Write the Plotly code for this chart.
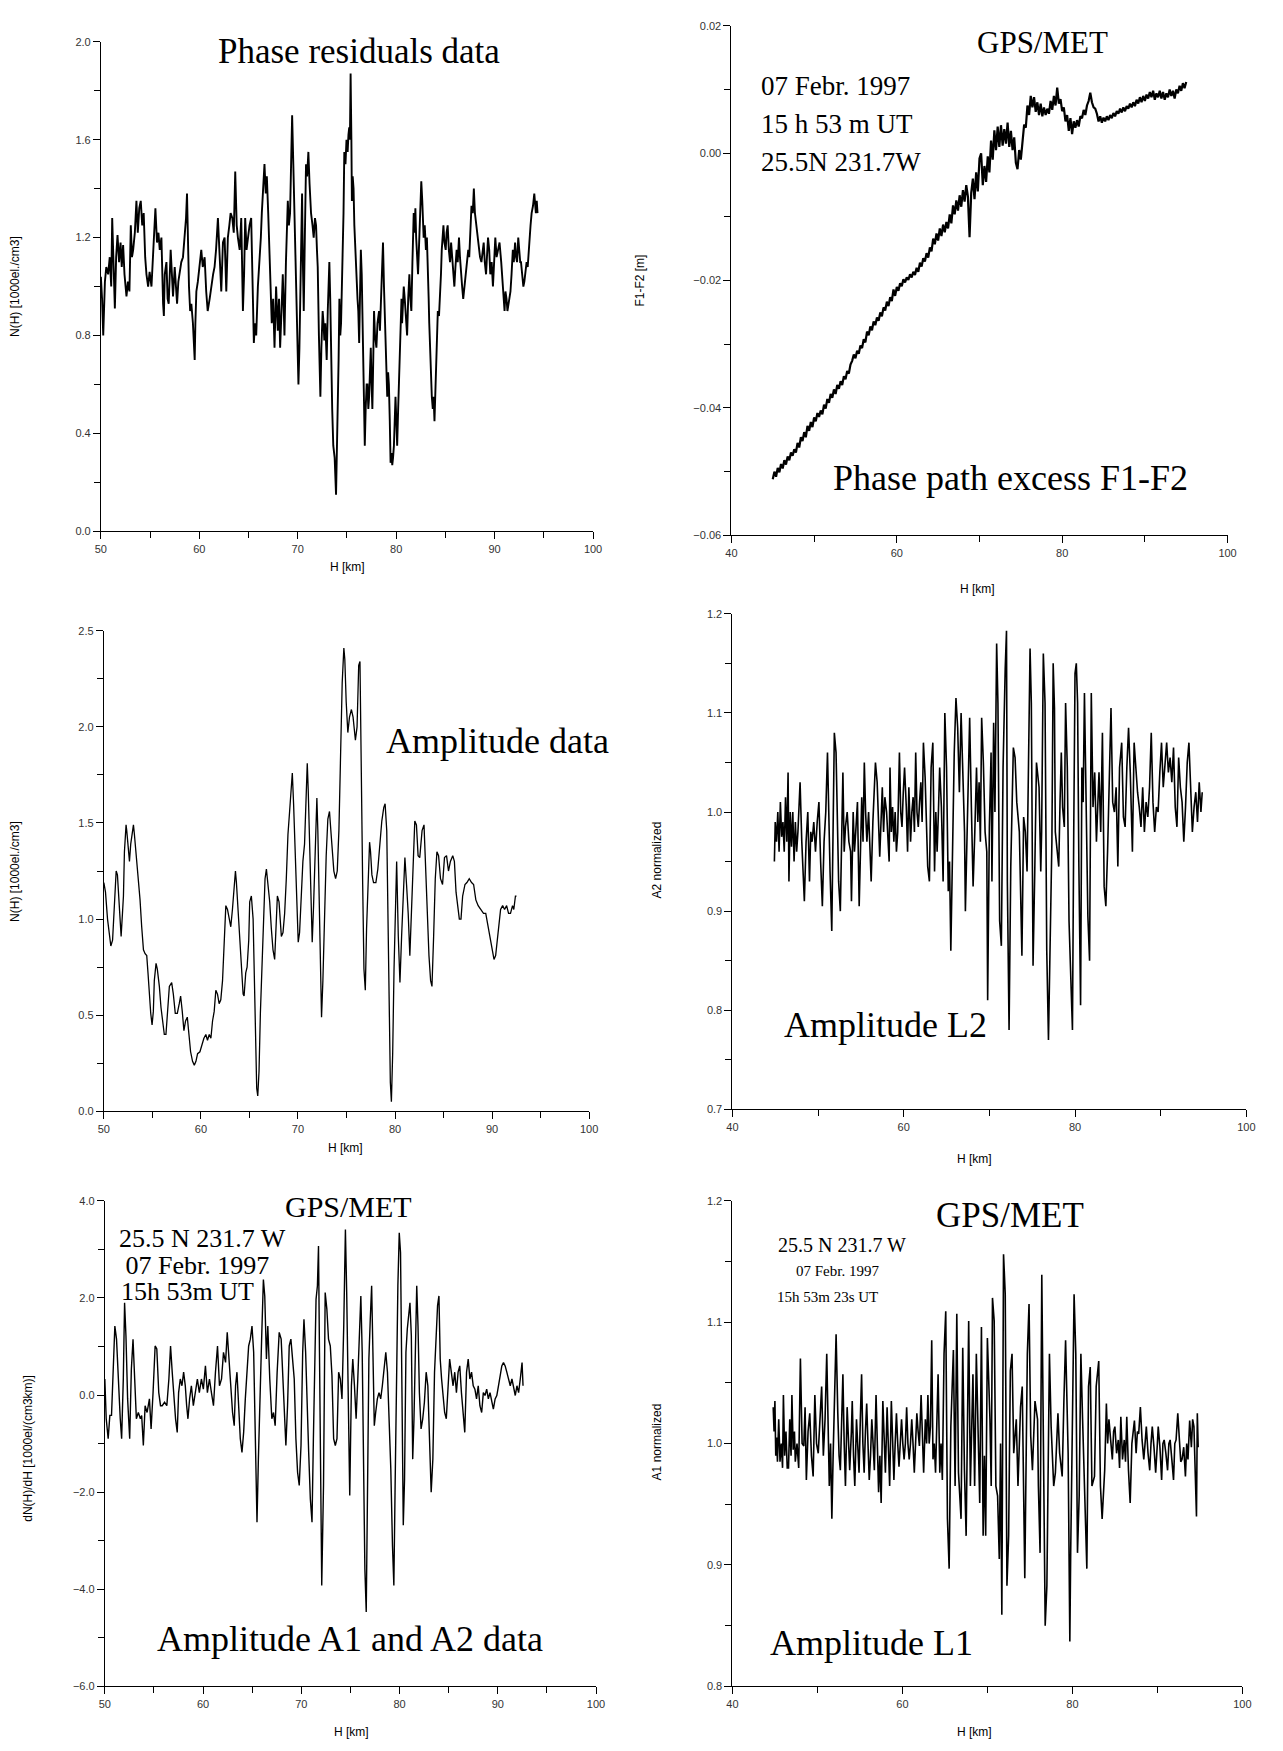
import plotly.graph_objects as go

W, H = 1283, 1751

# ---------------- data ----------------
# Panel 1: Phase residuals data  (H [km], N(H) [1000el./cm3])
phase_pts = [
    (50.0, 1.04), (50.12, 0.95), (50.24, 0.80), (50.33, 1.00), (50.41, 1.02), (50.55, 1.08), (50.74, 1.05),
    (50.9, 1.12), (51.05, 1.0), (51.15, 1.28), (51.28, 1.1), (51.42, 0.91), (51.55, 1.12), (51.69, 1.21),
    (51.85, 1.1), (52.0, 1.18), (52.12, 1.08), (52.26, 1.17), (52.4, 1.05), (52.6, 0.96), (52.75, 1.02),
    (52.9, 0.98), (53.04, 1.25), (53.16, 1.12), (53.28, 1.15), (53.45, 1.22), (53.61, 1.35), (53.75, 1.22),
    (53.9, 1.32), (54.05, 1.35), (54.2, 1.25), (54.35, 1.3), (54.5, 1.12), (54.63, 1.05), (54.8, 1.0),
    (54.95, 1.06), (55.14, 1.0), (55.3, 1.15), (55.45, 1.25), (55.54, 1.32), (55.7, 1.18), (55.85, 1.22),
    (55.98, 1.15), (56.15, 1.2), (56.32, 0.93), (56.4, 0.88), (56.49, 1.05), (56.66, 1.1), (56.78, 0.95),
    (56.89, 0.93), (57.09, 1.15), (57.2, 1.05), (57.33, 0.96), (57.5, 1.08), (57.62, 1.0), (57.74, 0.93),
    (57.87, 1.02), (58.0, 1.05), (58.17, 1.1), (58.34, 1.12), (58.5, 1.2), (58.65, 1.28), (58.75, 1.38),
    (58.85, 1.12), (58.95, 1.0), (59.07, 0.9), (59.19, 0.93), (59.35, 0.85), (59.53, 0.70), (59.6, 0.85),
    (59.7, 0.98), (59.85, 1.02), (60.03, 1.1), (60.2, 1.15), (60.35, 1.08), (60.54, 1.12), (60.7, 0.98),
    (60.85, 0.9), (61.05, 0.95), (61.2, 1.0), (61.4, 1.05), (61.55, 1.08), (61.7, 1.15), (61.89, 1.28),
    (62.05, 1.1), (62.23, 0.98), (62.4, 1.18), (62.57, 1.2), (62.74, 0.98), (62.9, 1.2), (63.05, 1.25),
    (63.18, 1.3), (63.35, 1.28), (63.5, 1.22), (63.65, 1.47), (63.8, 1.25), (63.92, 1.2), (64.1, 1.15),
    (64.26, 1.28), (64.43, 0.9), (64.55, 1.05), (64.66, 1.28), (64.8, 1.15), (64.93, 1.2), (65.1, 1.25),
    (65.27, 1.28), (65.4, 1.0), (65.54, 0.77), (65.65, 0.85), (65.78, 0.8), (65.95, 1.0), (66.11, 1.1),
    (66.25, 1.2), (66.35, 1.3), (66.5, 1.42), (66.62, 1.5), (66.75, 1.38), (66.86, 1.45), (67.0, 1.3),
    (67.13, 1.1), (67.25, 1.0), (67.36, 0.85), (67.5, 0.95), (67.64, 0.75), (67.8, 1.0), (67.9, 0.9),
    (67.97, 0.82), (68.1, 0.95), (68.21, 0.75), (68.35, 0.9), (68.48, 1.05), (68.55, 0.95), (68.65, 0.8),
    (68.8, 1.1), (68.99, 1.35), (69.1, 1.25), (69.22, 1.3), (69.35, 1.55), (69.43, 1.7), (69.55, 1.5),
    (69.66, 1.3), (69.75, 1.2), (69.83, 1.1), (69.95, 0.8), (70.07, 0.6), (70.17, 0.75), (70.27, 0.95),
    (70.35, 1.2), (70.44, 1.38), (70.52, 1.1), (70.61, 0.9), (70.72, 1.2), (70.84, 1.5), (70.95, 1.45),
    (71.08, 1.55), (71.2, 1.42), (71.35, 1.3), (71.5, 1.25), (71.62, 1.2), (71.75, 1.28), (71.86, 1.25),
    (71.95, 1.15), (72.03, 1.08), (72.15, 0.8), (72.3, 0.55), (72.4, 0.75), (72.53, 0.9), (72.62, 0.85),
    (72.7, 0.78), (72.8, 0.85), (72.94, 0.7), (73.05, 0.9), (73.21, 1.1), (73.3, 0.95), (73.38, 0.7),
    (73.5, 0.5), (73.61, 0.35), (73.75, 0.3), (73.89, 0.15), (73.97, 0.3), (74.06, 0.5), (74.15, 0.7),
    (74.23, 0.95), (74.32, 0.8), (74.4, 0.85), (74.5, 1.0), (74.56, 1.15), (74.65, 1.3), (74.73, 1.55),
    (74.85, 1.5), (74.95, 1.6), (75.07, 1.55), (75.15, 1.62), (75.23, 1.65), (75.3, 1.6), (75.37, 1.87),
    (75.45, 1.6), (75.5, 1.35), (75.58, 1.45), (75.67, 1.4), (75.75, 1.25), (75.84, 1.15), (75.95, 1.05),
    (76.07, 0.95), (76.15, 0.9), (76.24, 0.77), (76.32, 0.95), (76.41, 1.15), (76.5, 1.05), (76.58, 0.9),
    (76.7, 0.6), (76.81, 0.35), (76.9, 0.5), (77.0, 0.6), (77.08, 0.6), (77.17, 0.5), (77.25, 0.55),
    (77.33, 0.7), (77.42, 0.75), (77.5, 0.6), (77.58, 0.5), (77.67, 0.7), (77.75, 0.9), (77.85, 0.8),
    (77.99, 0.75), (78.1, 0.85), (78.26, 0.9), (78.35, 0.82), (78.46, 0.95), (78.55, 1.05), (78.66, 1.18),
    (78.76, 1.0), (78.85, 0.85), (78.93, 0.7), (79.01, 0.6), (79.09, 0.55), (79.18, 0.65), (79.26, 0.6),
    (79.35, 0.45), (79.43, 0.28), (79.52, 0.32), (79.6, 0.27), (79.68, 0.3), (79.77, 0.35), (79.85, 0.45),
    (79.93, 0.55), (80.02, 0.45), (80.1, 0.35), (80.2, 0.5), (80.34, 0.7), (80.45, 0.85), (80.54, 0.95),
    (80.6, 0.85), (80.67, 0.9), (80.77, 1.0), (80.87, 0.95), (80.98, 0.85), (81.11, 0.8), (81.22, 0.95),
    (81.34, 1.05), (81.44, 0.95), (81.54, 0.9), (81.65, 1.1), (81.78, 1.3), (81.87, 1.22), (81.95, 1.32),
    (82.03, 1.2), (82.11, 1.1), (82.22, 1.05), (82.35, 1.2), (82.45, 1.3), (82.55, 1.43), (82.65, 1.35),
    (82.79, 1.2), (82.9, 1.25), (83.02, 1.15), (83.12, 1.2), (83.22, 1.1), (83.3, 0.95), (83.36, 0.85),
    (83.45, 0.72), (83.52, 0.65), (83.62, 0.55), (83.72, 0.5), (83.8, 0.55), (83.89, 0.45), (83.97, 0.55),
    (84.06, 0.7), (84.15, 0.85), (84.23, 0.9), (84.35, 0.88), (84.46, 0.95), (84.55, 1.05), (84.63, 1.15),
    (84.72, 1.2), (84.8, 1.25), (84.9, 1.18), (85.03, 1.15), (85.12, 1.22), (85.23, 1.25), (85.35, 1.15),
    (85.47, 1.1), (85.58, 1.18), (85.7, 1.12), (85.8, 1.05), (85.91, 1.0), (86.02, 1.08), (86.14, 1.15),
    (86.25, 1.1), (86.38, 1.2), (86.48, 1.12), (86.58, 1.05), (86.7, 1.0), (86.81, 0.95), (86.92, 1.0),
    (87.05, 1.05), (87.18, 1.1), (87.32, 1.15), (87.42, 1.12), (87.52, 1.2), (87.65, 1.33), (87.78, 1.3),
    (87.89, 1.4), (88.0, 1.3), (88.15, 1.25), (88.28, 1.2), (88.39, 1.18), (88.52, 1.12), (88.66, 1.1),
    (88.78, 1.15), (88.89, 1.18), (89.0, 1.1), (89.13, 1.05), (89.22, 1.12), (89.33, 1.2), (89.45, 1.15),
    (89.56, 1.05), (89.7, 1.1), (89.83, 1.0), (89.95, 1.1), (90.07, 1.2), (90.2, 1.12), (90.34, 1.15),
    (90.5, 1.18), (90.67, 1.1), (90.75, 1.05), (90.84, 1.0), (90.92, 0.95), (91.01, 0.9), (91.1, 0.98),
    (91.21, 0.95), (91.3, 0.9), (91.41, 0.93), (91.5, 0.95), (91.61, 0.98), (91.72, 1.05), (91.85, 1.15),
    (91.95, 1.1), (92.08, 1.18), (92.18, 1.12), (92.28, 1.1), (92.4, 1.2), (92.52, 1.15), (92.6, 1.1),
    (92.68, 1.1), (92.8, 1.05), (92.92, 1.0), (93.02, 1.02), (93.12, 1.05), (93.25, 1.1), (93.36, 1.08),
    (93.45, 1.15), (93.52, 1.18), (93.65, 1.25), (93.76, 1.3), (93.9, 1.33), (94.03, 1.38), (94.12, 1.3),
    (94.19, 1.3), (94.28, 1.35), (94.36, 1.3),
]

# Panel 2: Phase path excess F1-F2 (H [km], F1-F2 [m])
f1f2_pts = [
    (45.0, -0.0512), (45.2, -0.0500), (45.4, -0.0508), (45.6, -0.0494), (45.8, -0.0501), (46.0, -0.0488),
    (46.2, -0.0495), (46.4, -0.0482), (46.6, -0.0489), (46.8, -0.0476), (47.0, -0.0482), (47.2, -0.0470),
    (47.4, -0.0475), (47.6, -0.0465), (47.8, -0.0470), (48.0, -0.0455), (48.2, -0.0462), (48.4, -0.0446),
    (48.6, -0.0452), (48.8, -0.0438), (49.0, -0.0446), (49.2, -0.0428), (49.4, -0.0436), (49.6, -0.0422),
    (49.8, -0.0430), (50.0, -0.0415), (50.2, -0.0421), (50.4, -0.0408), (50.6, -0.0414), (50.8, -0.0404),
    (51.0, -0.0410), (51.2, -0.0395), (51.4, -0.0401), (51.6, -0.0386), (51.8, -0.0392), (52.0, -0.0378),
    (52.2, -0.0384), (52.4, -0.0371), (52.6, -0.0378), (52.8, -0.0364), (53.0, -0.0370), (53.2, -0.0358),
    (53.4, -0.0364), (53.6, -0.0350), (53.8, -0.0355), (54.0, -0.0342), (54.2, -0.0346), (54.4, -0.0332),
    (54.6, -0.0326), (54.8, -0.0316), (55.0, -0.0322), (55.2, -0.0310), (55.4, -0.0315), (55.6, -0.0302),
    (55.8, -0.0306), (56.0, -0.0292), (56.2, -0.0297), (56.4, -0.0280), (56.6, -0.0286), (56.8, -0.0272),
    (57.0, -0.0278), (57.2, -0.0264), (57.4, -0.0270), (57.6, -0.0258), (57.8, -0.0263), (58.0, -0.0250),
    (58.2, -0.0256), (58.4, -0.0242), (58.6, -0.0247), (58.8, -0.0233), (59.0, -0.0240), (59.2, -0.0226),
    (59.4, -0.0232), (59.6, -0.0214), (59.8, -0.0224), (60.0, -0.0210), (60.2, -0.0216), (60.4, -0.0204),
    (60.6, -0.0209), (60.8, -0.0198), (61.0, -0.0203), (61.2, -0.0195), (61.4, -0.0199), (61.6, -0.0190),
    (61.8, -0.0195), (62.0, -0.0186), (62.2, -0.0191), (62.4, -0.0180), (62.6, -0.0186), (62.8, -0.0172),
    (63.0, -0.0178), (63.2, -0.0165), (63.4, -0.0170), (63.6, -0.0157), (63.8, -0.0164), (64.0, -0.0148),
    (64.2, -0.0154), (64.4, -0.0134), (64.6, -0.0143), (64.8, -0.0126), (65.0, -0.0137), (65.2, -0.0118),
    (65.4, -0.0130), (65.6, -0.0112), (65.8, -0.0124), (66.0, -0.0108), (66.2, -0.0118), (66.4, -0.0096),
    (66.6, -0.0110), (66.8, -0.0082), (67.0, -0.0096), (67.2, -0.0074), (67.4, -0.0090), (67.6, -0.0066),
    (67.8, -0.0084), (68.0, -0.0058), (68.2, -0.0076), (68.4, -0.0050), (68.6, -0.0068), (68.8, -0.0132),
    (69.0, -0.0062), (69.2, -0.0040), (69.4, -0.0072), (69.6, -0.0030), (69.8, -0.0060), (70.0, -0.0008),
    (70.2, 0.0000), (70.4, -0.0050), (70.6, -0.0020), (70.8, -0.0045), (71.0, -0.0005), (71.2, -0.0030),
    (71.4, 0.0020), (71.6, -0.0010), (71.8, 0.0036), (72.0, 0.0005), (72.2, 0.0042), (72.4, 0.0010),
    (72.6, 0.0044), (72.8, 0.0012), (73.0, 0.0038), (73.2, 0.0015), (73.4, 0.0048), (73.6, 0.0010),
    (73.8, 0.0035), (74.0, 0.0005), (74.2, 0.0025), (74.4, -0.0015), (74.6, -0.0025), (74.8, 0.0005),
    (75.0, -0.0010), (75.2, 0.0020), (75.4, 0.0045), (75.6, 0.0040), (75.8, 0.0075), (76.0, 0.0060),
    (76.2, 0.0090), (76.4, 0.0072), (76.6, 0.0088), (76.8, 0.0065), (77.0, 0.0080), (77.2, 0.0060),
    (77.4, 0.0078), (77.6, 0.0058), (77.8, 0.0072), (78.0, 0.0060), (78.2, 0.0070), (78.4, 0.0062),
    (78.6, 0.0082), (78.8, 0.0068), (79.0, 0.0090), (79.2, 0.0075), (79.4, 0.0103), (79.6, 0.0078),
    (79.8, 0.0085), (80.0, 0.0066), (80.2, 0.0072), (80.4, 0.0050), (80.6, 0.0060), (80.8, 0.0035),
    (81.0, 0.0055), (81.2, 0.0030), (81.4, 0.0050), (81.6, 0.0040), (81.8, 0.0052), (82.0, 0.0042),
    (82.2, 0.0058), (82.4, 0.0055), (82.6, 0.0068), (82.8, 0.0060), (83.0, 0.0075), (83.2, 0.0082),
    (83.4, 0.0095), (83.6, 0.0080), (83.8, 0.0072), (84.0, 0.0070), (84.2, 0.0062), (84.4, 0.0050),
    (84.6, 0.0058), (84.8, 0.0048), (85.0, 0.0056), (85.2, 0.0050), (85.4, 0.0058), (85.6, 0.0052),
    (85.8, 0.0060), (86.0, 0.0055), (86.2, 0.0063), (86.4, 0.0058), (86.6, 0.0066), (86.8, 0.0062),
    (87.0, 0.0070), (87.2, 0.0064), (87.4, 0.0072), (87.6, 0.0066), (87.8, 0.0074), (88.0, 0.0070),
    (88.2, 0.0078), (88.4, 0.0072), (88.6, 0.0080), (88.8, 0.0074), (89.0, 0.0084), (89.2, 0.0078),
    (89.4, 0.0088), (89.6, 0.0080), (89.8, 0.0090), (90.0, 0.0082), (90.2, 0.0092), (90.4, 0.0086),
    (90.6, 0.0096), (90.8, 0.0088), (91.0, 0.0098), (91.2, 0.0084), (91.4, 0.0094), (91.6, 0.0088),
    (91.8, 0.0098), (92.0, 0.0086), (92.2, 0.0096), (92.4, 0.0084), (92.6, 0.0094), (92.8, 0.0088),
    (93.0, 0.0100), (93.2, 0.0090), (93.4, 0.0098), (93.6, 0.0086), (93.8, 0.0100), (94.0, 0.0094),
    (94.2, 0.0106), (94.4, 0.0098), (94.6, 0.0110), (94.8, 0.0102), (95.0, 0.0112),
]

# Panel 3: Amplitude data (H [km], N(H) [1000el./cm3])
ampl_pts = [
    (50.0, 1.19), (50.17, 1.14), (50.38, 1.0), (50.55, 0.93), (50.72, 0.86), (50.9, 0.89), (51.0, 0.98),
    (51.1, 1.1), (51.27, 1.25), (51.4, 1.23), (51.54, 1.12), (51.68, 1.03), (51.78, 0.91), (51.92, 1.03),
    (52.02, 1.12), (52.12, 1.35), (52.29, 1.49), (52.36, 1.46), (52.47, 1.39), (52.64, 1.3), (52.77, 1.39),
    (52.91, 1.44), (53.05, 1.49), (53.15, 1.44), (53.32, 1.35), (53.49, 1.26), (53.73, 1.1), (53.9, 0.96),
    (54.08, 0.84), (54.25, 0.82), (54.42, 0.81), (54.55, 0.72), (54.7, 0.6), (54.83, 0.51), (54.97, 0.45),
    (55.1, 0.52), (55.2, 0.68), (55.38, 0.77), (55.51, 0.74), (55.72, 0.65), (55.89, 0.54), (56.06, 0.47),
    (56.23, 0.4), (56.4, 0.4), (56.58, 0.54), (56.75, 0.65), (56.99, 0.67), (57.16, 0.61), (57.36, 0.51),
    (57.57, 0.51), (57.77, 0.56), (57.91, 0.6), (58.08, 0.52), (58.25, 0.42), (58.42, 0.47), (58.6, 0.49),
    (58.77, 0.4), (58.94, 0.31), (59.14, 0.26), (59.32, 0.24), (59.49, 0.26), (59.66, 0.3), (59.9, 0.31),
    (60.07, 0.34), (60.31, 0.38), (60.51, 0.4), (60.68, 0.37), (60.86, 0.4), (61.03, 0.38), (61.2, 0.47),
    (61.37, 0.52), (61.54, 0.63), (61.71, 0.61), (61.88, 0.56), (62.05, 0.58), (62.23, 0.68), (62.4, 0.93),
    (62.57, 1.07), (62.74, 1.05), (62.91, 1.0), (63.08, 0.96), (63.25, 1.05), (63.42, 1.18), (63.56, 1.25),
    (63.66, 1.19), (63.84, 1.05), (64.0, 0.89), (64.18, 0.74), (64.35, 0.61), (64.45, 0.6), (64.62, 0.72),
    (64.76, 0.75), (64.93, 0.89), (65.03, 1.09), (65.2, 1.12), (65.38, 1.0), (65.48, 0.72), (65.62, 0.37),
    (65.75, 0.12), (65.86, 0.08), (65.99, 0.21), (66.13, 0.51), (66.3, 0.79), (66.47, 1.03), (66.61, 1.21),
    (66.75, 1.26), (66.92, 1.19), (67.09, 1.09), (67.26, 0.95), (67.43, 0.84), (67.6, 0.79), (67.71, 0.91),
    (67.88, 1.12), (68.05, 1.09), (68.18, 1.0), (68.29, 0.91), (68.46, 0.93), (68.63, 1.03), (68.8, 1.21),
    (68.97, 1.44), (69.14, 1.56), (69.32, 1.72), (69.42, 1.76), (69.55, 1.6), (69.73, 1.32), (69.9, 1.03),
    (70.03, 0.88), (70.17, 0.93), (70.34, 1.14), (70.51, 1.3), (70.68, 1.39), (70.86, 1.67), (70.96, 1.81),
    (71.06, 1.67), (71.2, 1.39), (71.37, 1.05), (71.47, 0.88), (71.61, 1.07), (71.82, 1.51), (71.95, 1.63),
    (72.05, 1.46), (72.19, 1.09), (72.33, 0.61), (72.43, 0.49), (72.57, 0.68), (72.74, 1.07), (72.91, 1.33),
    (73.08, 1.52), (73.25, 1.56), (73.42, 1.44), (73.54, 1.35), (73.7, 1.25), (73.88, 1.21), (74.05, 1.25),
    (74.22, 1.46), (74.39, 1.84), (74.56, 2.23), (74.73, 2.41), (74.83, 2.35), (74.97, 2.13), (75.14, 1.97),
    (75.31, 2.05), (75.51, 2.09), (75.68, 2.05), (75.92, 1.93), (76.09, 2.0), (76.26, 2.32), (76.39, 2.34),
    (76.53, 1.88), (76.67, 1.18), (76.8, 0.74), (76.94, 0.63), (77.07, 0.95), (77.21, 1.14), (77.38, 1.4),
    (77.48, 1.35), (77.62, 1.23), (77.79, 1.19), (78.03, 1.19), (78.23, 1.26), (78.44, 1.4), (78.64, 1.51),
    (78.84, 1.58), (78.98, 1.6), (79.15, 1.46), (79.25, 1.07), (79.39, 0.51), (79.52, 0.15), (79.63, 0.05),
    (79.76, 0.3), (79.9, 0.74), (80.03, 1.09), (80.17, 1.3), (80.34, 0.91), (80.51, 0.67), (80.68, 0.91),
    (80.85, 1.14), (81.02, 1.32), (81.19, 1.18), (81.36, 1.03), (81.53, 0.81), (81.7, 1.03), (81.87, 1.26),
    (82.04, 1.51), (82.21, 1.49), (82.38, 1.33), (82.55, 1.32), (82.79, 1.46), (82.99, 1.49), (83.13, 1.3),
    (83.33, 1.02), (83.5, 0.81), (83.67, 0.68), (83.81, 0.65), (83.98, 0.91), (84.15, 1.21), (84.32, 1.35),
    (84.49, 1.33), (84.69, 1.21), (84.9, 1.18), (85.1, 1.32), (85.31, 1.33), (85.51, 1.25), (85.71, 1.3),
    (85.95, 1.33), (86.12, 1.3), (86.29, 1.14), (86.46, 1.05), (86.63, 1.0), (86.8, 1.0), (86.97, 1.12),
    (87.21, 1.18), (87.41, 1.19), (87.65, 1.21), (87.89, 1.19), (88.1, 1.18), (88.33, 1.1), (88.57, 1.07),
    (88.84, 1.05), (89.12, 1.03), (89.35, 1.03), (89.59, 0.96), (89.8, 0.89), (90.03, 0.82), (90.2, 0.79),
    (90.37, 0.81), (90.54, 0.89), (90.71, 1.0), (90.88, 1.05), (91.09, 1.07), (91.29, 1.05), (91.5, 1.07),
    (91.7, 1.03), (91.9, 1.03), (92.11, 1.07), (92.24, 1.05), (92.41, 1.12), (92.52, 1.12),
]

# Panel 4: Amplitude L2 (H [km], A2 normalized)
a2_pts = [
    (44.9, 0.95), (45.0, 0.99), (45.15, 0.97), (45.3, 1.0), (45.45, 0.96), (45.6, 1.01), (45.75, 0.975),
    (45.9, 0.99), (46.05, 0.96), (46.2, 1.015), (46.35, 0.97), (46.5, 1.04), (46.6, 0.93), (46.75, 1.0),
    (46.9, 0.965), (47.05, 1.0), (47.2, 0.95), (47.35, 0.99), (47.5, 0.96), (47.65, 0.98), (47.9, 1.03),
    (48.1, 0.97), (48.4, 0.91), (48.6, 0.97), (48.8, 1.0), (49.0, 0.93), (49.15, 0.98), (49.3, 0.97),
    (49.5, 0.99), (49.7, 0.96), (49.9, 0.99), (50.1, 1.01), (50.3, 0.95), (50.5, 0.905), (50.7, 0.97),
    (50.9, 1.0), (51.1, 1.06), (51.25, 0.99), (51.4, 0.94), (51.6, 0.88), (51.75, 0.99), (51.9, 1.08),
    (52.1, 1.06), (52.25, 0.99), (52.4, 0.93), (52.6, 0.90), (52.75, 0.98), (52.9, 1.04), (53.05, 0.96),
    (53.2, 0.985), (53.4, 1.0), (53.6, 0.97), (53.8, 0.96), (53.9, 0.91), (54.1, 1.0), (54.25, 0.96),
    (54.4, 0.98), (54.6, 1.01), (54.8, 0.905), (54.95, 0.98), (55.1, 1.015), (55.25, 0.97), (55.4, 1.05),
    (55.55, 1.0), (55.7, 0.97), (55.9, 1.0), (56.05, 0.97), (56.2, 0.93), (56.4, 0.99), (56.55, 1.02),
    (56.7, 1.05), (56.9, 1.03), (57.05, 0.99), (57.2, 0.955), (57.35, 0.99), (57.5, 1.025), (57.65, 0.98),
    (57.8, 1.015), (58.0, 1.0), (58.15, 0.97), (58.3, 0.95), (58.4, 1.045), (58.55, 0.98), (58.7, 1.005),
    (58.85, 0.97), (59.0, 1.0), (59.15, 0.96), (59.3, 0.98), (59.5, 1.06), (59.65, 1.0), (59.8, 0.985),
    (59.95, 1.02), (60.1, 1.045), (60.3, 1.005), (60.45, 0.96), (60.6, 1.025), (60.8, 0.97), (60.95, 1.0),
    (61.1, 1.015), (61.25, 0.98), (61.4, 1.06), (61.55, 1.0), (61.7, 0.985), (61.85, 1.01), (62.0, 1.03),
    (62.15, 0.99), (62.3, 1.07), (62.5, 1.035), (62.65, 0.99), (62.8, 0.945), (63.0, 0.93), (63.2, 1.045),
    (63.4, 1.07), (63.6, 0.94), (63.75, 1.0), (63.9, 0.96), (64.05, 1.0), (64.2, 1.045), (64.4, 1.005),
    (64.6, 0.93), (64.8, 1.1), (65.0, 1.045), (65.2, 0.92), (65.35, 0.95), (65.5, 0.86), (65.7, 0.98),
    (65.9, 1.06), (66.1, 1.115), (66.3, 1.085), (66.5, 1.02), (66.7, 1.1), (66.9, 1.04), (67.1, 0.98),
    (67.2, 0.90), (67.35, 0.96), (67.5, 1.0), (67.7, 1.095), (67.9, 1.005), (68.1, 0.925), (68.3, 0.98),
    (68.5, 1.045), (68.65, 0.99), (68.8, 1.03), (68.95, 0.97), (69.1, 1.095), (69.3, 1.05), (69.5, 0.98),
    (69.7, 0.96), (69.8, 0.81), (70.0, 0.985), (70.2, 1.06), (70.3, 0.93), (70.5, 1.09), (70.65, 1.0),
    (70.85, 1.17), (71.0, 1.11), (71.2, 0.89), (71.4, 0.865), (71.6, 1.045), (71.85, 1.145), (72.0, 1.183),
    (72.1, 0.93), (72.3, 0.78), (72.5, 0.945), (72.8, 1.065), (73.0, 1.055), (73.2, 1.01), (73.5, 0.98),
    (73.8, 0.855), (74.0, 0.995), (74.2, 0.98), (74.4, 0.94), (74.6, 1.05), (74.75, 1.165), (74.9, 1.11),
    (75.1, 0.845), (75.3, 0.94), (75.5, 1.05), (75.8, 1.025), (76.0, 0.94), (76.1, 0.98), (76.3, 1.16),
    (76.5, 1.11), (76.7, 0.86), (76.9, 0.77), (77.1, 0.87), (77.3, 0.97), (77.45, 1.15), (77.6, 1.105),
    (77.7, 0.98), (77.9, 0.96), (78.1, 0.945), (78.25, 1.01), (78.4, 1.06), (78.55, 1.005), (78.75, 0.985),
    (78.9, 1.11), (79.1, 1.045), (79.3, 0.89), (79.5, 0.82), (79.7, 0.78), (79.85, 0.98), (80.0, 1.14),
    (80.15, 1.15), (80.3, 1.11), (80.45, 0.945), (80.65, 0.805), (80.8, 1.045), (80.95, 1.01), (81.1, 1.12),
    (81.3, 0.98), (81.5, 0.895), (81.7, 0.85), (81.9, 1.12), (82.1, 1.005), (82.3, 1.04), (82.5, 0.97),
    (82.65, 1.01), (82.8, 1.04), (83.0, 0.98), (83.2, 1.08), (83.4, 0.925), (83.6, 0.905), (83.8, 0.96),
    (84.0, 1.025), (84.2, 1.105), (84.4, 1.01), (84.6, 1.0), (84.8, 1.025), (85.0, 0.945), (85.2, 1.045),
    (85.45, 1.07), (85.65, 0.995), (85.85, 0.985), (86.05, 1.045), (86.25, 1.085), (86.45, 1.04),
    (86.7, 0.96), (86.9, 1.07), (87.1, 1.04), (87.3, 1.02), (87.5, 1.005), (87.7, 0.985), (87.9, 1.025),
    (88.1, 0.98), (88.3, 1.01), (88.5, 0.995), (88.7, 1.025), (88.9, 1.08), (89.1, 1.01), (89.3, 0.98),
    (89.5, 1.005), (89.7, 1.0), (89.9, 1.04), (90.1, 1.07), (90.3, 1.025), (90.5, 1.045), (90.7, 1.07),
    (90.9, 1.04), (91.1, 1.055), (91.3, 1.03), (91.5, 1.065), (91.7, 1.005), (91.9, 0.985), (92.1, 1.055),
    (92.3, 1.025), (92.5, 1.01), (92.7, 0.97), (92.9, 1.005), (93.1, 1.05), (93.3, 1.07), (93.5, 1.025),
    (93.7, 0.98), (93.9, 1.005), (94.1, 1.02), (94.3, 0.99), (94.5, 1.03), (94.7, 1.0), (94.85, 1.02),
]

# Panel 5: Amplitude A1 and A2 data (H [km], dN(H)/dH)
dndh_pts = [
    (50.0, 0.33), (50.14, -0.49), (50.34, -0.9), (50.51, -0.42), (50.68, -0.42), (50.85, 0.47), (51.02, 1.42),
    (51.19, 1.15), (51.37, 0.19), (51.57, -0.49), (51.71, -0.9), (51.88, 0.33), (52.01, 1.9), (52.15, 1.22),
    (52.32, -0.08), (52.53, -0.9), (52.7, 0.53), (52.87, 1.15), (53.04, 0.33), (53.21, -0.49), (53.41, -0.36),
    (53.62, -0.49), (53.75, -0.42), (53.92, -1.04), (54.1, -0.22), (54.3, -0.36), (54.54, -0.08),
    (54.71, -0.7), (54.91, 0.05), (55.12, 1.01), (55.29, 0.95), (55.49, 0.05), (55.67, -0.22), (55.84, -0.22),
    (56.08, -0.15), (56.31, -0.22), (56.52, 0.33), (56.69, 1.01), (56.86, 0.47), (57.03, -0.08), (57.2, -0.49),
    (57.37, -0.77), (57.51, 0.05), (57.68, 0.33), (57.85, 0.19), (58.02, 0.47), (58.19, 0.19), (58.33, -0.22),
    (58.46, -0.49), (58.63, -0.08), (58.81, 0.19), (59.01, -0.22), (59.22, 0.05), (59.42, 0.33), (59.62, 0.05),
    (59.83, 0.33), (60.03, 0.12), (60.24, 0.6), (60.44, 0.05), (60.65, 0.33), (60.85, 0.05), (61.06, -0.22),
    (61.26, 0.47), (61.47, 1.01), (61.67, 0.19), (61.88, 0.33), (62.08, 0.88), (62.29, 0.67), (62.46, 1.29),
    (62.63, 0.74), (62.83, 0.05), (63.0, -0.36), (63.17, -0.63), (63.31, 0.19), (63.45, 0.47), (63.62, -0.36),
    (63.79, -0.9), (63.96, -1.18), (64.13, -0.77), (64.3, -0.08), (64.47, 0.47), (64.64, 1.01), (64.81, 1.15),
    (64.98, 1.42), (65.15, 0.88), (65.29, -0.49), (65.39, -1.99), (65.49, -2.62), (65.63, -1.32), (65.8, 0.19),
    (65.97, 1.22), (66.14, 2.38), (66.28, 2.04), (66.45, 0.74), (66.59, 1.42), (66.79, 0.33), (67.0, -0.49),
    (67.17, -0.36), (67.34, -0.63), (67.54, 0.47), (67.75, 1.29), (67.95, 1.15), (68.12, 0.47), (68.26, -0.22),
    (68.43, -1.04), (68.6, -0.22), (68.77, 1.01), (68.94, 1.15), (69.11, 0.74), (69.28, 0.33), (69.45, -0.9),
    (69.62, -1.59), (69.79, -1.86), (69.97, -1.04), (70.14, 0.88), (70.27, 1.56), (70.44, 0.88), (70.61, -0.49),
    (70.75, -1.18), (70.92, -2.14), (71.09, -2.62), (71.23, -0.9), (71.37, 1.01), (71.5, 1.97), (71.64, 2.25),
    (71.75, 3.07), (71.85, 0.88), (71.97, -1.86), (72.08, -3.92), (72.26, -1.86), (72.43, 2.11), (72.6, 1.77),
    (72.77, 1.15), (72.95, 1.01), (73.12, 0.4), (73.29, -0.9), (73.46, -1.04), (73.63, -0.9), (73.8, 0.47),
    (73.97, 0.33), (74.14, -0.08), (74.32, 1.42), (74.49, 3.41), (74.62, 2.11), (74.76, 0.47), (74.93, -2.07),
    (75.1, 0.19), (75.24, 0.74), (75.41, 0.19), (75.58, -0.49), (75.75, 0.33), (75.92, 1.56), (76.06, 2.04),
    (76.2, 0.88), (76.34, -1.86), (76.47, -3.58), (76.61, -4.47), (76.75, -1.86), (76.88, 0.74), (77.02, 1.56),
    (77.16, 2.25), (77.29, 0.88), (77.43, -0.63), (77.57, -0.36), (77.74, -0.08), (77.91, 0.05), (78.08, -0.08),
    (78.25, 0.19), (78.42, 0.6), (78.6, 0.88), (78.77, 0.47), (78.94, -0.36), (79.11, -1.52), (79.28, -3.1),
    (79.42, -3.92), (79.55, -1.86), (79.69, 0.88), (79.83, 2.25), (79.97, 3.34), (80.1, 2.93), (80.24, 0.19),
    (80.38, -2.68), (80.51, -1.73), (80.65, 0.88), (80.79, 1.36), (80.92, 1.7), (81.06, 1.9), (81.2, 1.22),
    (81.34, -1.32), (81.47, -0.49), (81.61, 1.22), (81.75, 2.25), (81.88, 1.42), (82.02, 0.05), (82.19, -0.7),
    (82.36, -0.49), (82.53, -0.15), (82.71, 0.47), (82.88, 0.19), (83.05, -1.04), (83.22, -2.0), (83.39, -1.32),
    (83.56, 0.47), (83.73, 1.22), (83.87, 1.84), (84.01, 2.04), (84.14, 0.74), (84.28, 0.33), (84.42, 0.05),
    (84.59, -0.36), (84.76, -0.49), (84.93, 0.19), (85.1, 0.74), (85.27, 0.47), (85.45, 0.19), (85.62, 0.47),
    (85.79, 0.05), (85.96, 0.47), (86.13, 0.6), (86.3, 0.05), (86.47, -0.36), (86.64, -0.77), (86.82, 0.47),
    (86.99, 0.74), (87.16, 0.33), (87.33, 0.47), (87.5, 0.19), (87.67, 0.12), (87.84, -0.08), (88.01, 0.19),
    (88.18, -0.22), (88.36, -0.36), (88.53, 0.05), (88.7, -0.01), (88.87, 0.12), (89.04, -0.08), (89.21, 0.05),
    (89.38, -0.15), (89.55, -0.29), (89.73, -0.08), (89.9, -0.01), (90.07, 0.19), (90.24, 0.4), (90.41, 0.6),
    (90.58, 0.67), (90.75, 0.6), (90.92, 0.47), (91.1, 0.33), (91.27, 0.19), (91.44, 0.33), (91.61, 0.12),
    (91.78, -0.01), (91.95, 0.19), (92.12, 0.05), (92.29, 0.33), (92.47, 0.67), (92.57, 0.19),
]

# Panel 6: Amplitude L1 (H [km], A1 normalized)
a1_pts = [
    (44.8, 1.03), (44.9, 1.01), (45.0, 1.035), (45.1, 0.99), (45.2, 1.005), (45.3, 0.985), (45.45, 1.02),
    (45.6, 0.985), (45.75, 1.0), (45.9, 0.98), (46.0, 1.04), (46.15, 0.99), (46.3, 1.01), (46.45, 0.98),
    (46.6, 0.98), (46.75, 1.02), (46.9, 0.99), (47.0, 1.04), (47.15, 0.995), (47.3, 1.01), (47.4, 0.985),
    (47.6, 1.0), (47.8, 0.98), (48.0, 1.07), (48.2, 1.0), (48.4, 0.998), (48.55, 1.03), (48.7, 0.97),
    (48.9, 1.01), (49.1, 1.025), (49.3, 0.99), (49.5, 0.973), (49.7, 1.04), (49.9, 1.0), (50.1, 0.992),
    (50.3, 1.02), (50.5, 1.047), (50.7, 0.99), (50.9, 1.02), (51.1, 1.074), (51.25, 1.0), (51.4, 0.965),
    (51.55, 1.0), (51.7, 0.938), (51.85, 0.99), (52.0, 1.033), (52.2, 1.09), (52.4, 1.025), (52.55, 0.99),
    (52.7, 0.978), (52.85, 1.01), (53.0, 1.057), (53.15, 1.0), (53.3, 0.965), (53.5, 1.03), (53.65, 1.0),
    (53.8, 0.978), (54.0, 1.01), (54.1, 1.035), (54.25, 0.99), (54.4, 0.965), (54.6, 1.02), (54.75, 1.0),
    (54.9, 0.976), (55.05, 1.02), (55.2, 1.057), (55.35, 1.0), (55.5, 0.976), (55.65, 1.01), (55.8, 1.033),
    (55.95, 1.0), (56.1, 0.97), (56.25, 0.99), (56.4, 1.02), (56.55, 1.0), (56.7, 0.978), (56.9, 1.04),
    (57.05, 1.0), (57.2, 0.96), (57.35, 0.99), (57.5, 0.951), (57.7, 1.035), (57.85, 1.0), (58.0, 0.976),
    (58.2, 1.03), (58.35, 1.0), (58.5, 0.965), (58.7, 1.035), (58.85, 1.0), (59.0, 0.97), (59.15, 1.0),
    (59.3, 1.025), (59.45, 1.0), (59.6, 0.981), (59.75, 1.0), (59.9, 1.02), (60.05, 1.0), (60.2, 0.987),
    (60.35, 1.0), (60.5, 1.03), (60.65, 1.0), (60.8, 0.987), (60.95, 1.0), (61.1, 1.02), (61.25, 1.0),
    (61.4, 0.976), (61.55, 1.0), (61.7, 1.025), (61.85, 1.01), (62.0, 0.998), (62.2, 1.04), (62.35, 1.0),
    (62.5, 0.976), (62.7, 1.02), (62.85, 1.0), (63.0, 1.04), (63.15, 1.0), (63.3, 1.014), (63.45, 1.085),
    (63.6, 0.987), (63.75, 1.0), (63.9, 0.976), (64.05, 1.01), (64.2, 1.057), (64.4, 0.976), (64.55, 1.0),
    (64.7, 0.97), (64.9, 1.074), (65.1, 1.109), (65.3, 0.938), (65.5, 0.897), (65.7, 1.014), (66.0, 1.077),
    (66.2, 0.965), (66.4, 1.107), (66.6, 0.976), (66.9, 0.938), (67.1, 1.079), (67.3, 0.978), (67.5, 0.924),
    (67.8, 1.101), (68.0, 0.965), (68.3, 1.057), (68.5, 0.965), (68.7, 1.074), (68.9, 1.0), (69.1, 0.951),
    (69.3, 1.096), (69.5, 0.924), (69.65, 0.99), (69.8, 0.924), (70.0, 1.087), (70.3, 1.02), (70.45, 0.965),
    (70.6, 1.12), (70.8, 1.101), (71.0, 0.965), (71.2, 0.957), (71.4, 0.905), (71.55, 1.0), (71.7, 0.859),
    (71.9, 1.156), (72.1, 1.123), (72.3, 0.883), (72.5, 0.924), (72.7, 1.06), (72.9, 1.074), (73.1, 0.992),
    (73.4, 1.02), (73.6, 0.965), (73.9, 1.03), (74.1, 1.047), (74.4, 0.889), (74.7, 1.074), (74.9, 1.115),
    (75.1, 1.006), (75.3, 0.978), (75.6, 1.035), (75.9, 1.02), (76.0, 0.965), (76.2, 0.91), (76.4, 1.139),
    (76.6, 1.006), (76.8, 0.85), (77.0, 0.883), (77.3, 1.074), (77.5, 1.014), (77.8, 0.965), (78.0, 0.976),
    (78.3, 1.025), (78.5, 0.992), (78.8, 0.973), (79.0, 1.035), (79.2, 1.085), (79.5, 0.992), (79.7, 0.837),
    (79.8, 0.91), (80.1, 1.087), (80.2, 1.123), (80.4, 1.074), (80.6, 0.91), (80.8, 0.957), (81.0, 1.074),
    (81.2, 1.02), (81.5, 0.938), (81.7, 0.897), (81.9, 1.047), (82.1, 1.063), (82.3, 0.965), (82.6, 0.973),
    (82.8, 1.047), (83.1, 1.068), (83.3, 0.965), (83.5, 0.938), (83.8, 0.978), (84.0, 1.033), (84.15, 1.0),
    (84.3, 1.02), (84.5, 1.003), (84.7, 0.987), (84.85, 1.01), (85.0, 1.014), (85.2, 0.992), (85.4, 1.003),
    (85.55, 0.98), (85.7, 1.022), (85.9, 0.987), (86.1, 1.003), (86.25, 0.985), (86.4, 1.022), (86.6, 0.978),
    (86.8, 0.951), (87.0, 1.0), (87.1, 1.008), (87.3, 1.019), (87.5, 0.992), (87.65, 1.01), (87.8, 1.008),
    (88.0, 1.03), (88.2, 1.003), (88.4, 0.987), (88.55, 1.0), (88.7, 1.014), (88.9, 0.992), (89.1, 0.978),
    (89.25, 1.0), (89.4, 1.014), (89.6, 0.997), (89.8, 0.976), (90.0, 1.0), (90.1, 1.014), (90.3, 0.997),
    (90.5, 0.97), (90.65, 1.0), (90.8, 1.003), (91.0, 0.992), (91.2, 0.978), (91.35, 1.0), (91.5, 1.003),
    (91.7, 0.987), (91.9, 0.97), (92.05, 1.0), (92.2, 1.003), (92.4, 1.025), (92.6, 1.003), (92.75, 0.985),
    (92.9, 0.987), (93.1, 0.997), (93.3, 0.973), (93.45, 1.0), (93.6, 0.987), (93.8, 1.019), (94.0, 0.997),
    (94.15, 1.02), (94.3, 1.014), (94.5, 0.965), (94.6, 0.94), (94.7, 1.025), (94.8, 0.997),
]

# ---------------- layout helpers ----------------
SANS = "Liberation Sans, Arial, sans-serif"
SERIF = "Liberation Serif, Times New Roman, serif"


def px_x(x):
    return x / W


def px_y(y):
    return 1 - y / H


panels = [
    dict(pts=phase_pts, box=(96, 594, 36, 529), xr=[50, 100], xd=10, xm=5, yr=[0, 2.0], yd=0.4, ym=0.2,
         fmt=".1f", lw=1.9),
    dict(pts=f1f2_pts, box=(734, 1236, 20, 533), xr=[40, 100], xd=20, xm=10, yr=[-0.06, 0.02], yd=0.02,
         ym=0.01, fmt=".2f", lw=2.2),
    dict(pts=ampl_pts, box=(99, 590, 629, 1113), xr=[50, 100], xd=10, xm=5, yr=[0, 2.5], yd=0.5, ym=0.25,
         fmt=".1f", lw=1.3),
    dict(pts=a2_pts, box=(735, 1255, 612, 1111), xr=[40, 100], xd=20, xm=10, yr=[0.7, 1.2], yd=0.1,
         ym=0.05, fmt=".1f", lw=1.6),
    dict(pts=dndh_pts, box=(100, 597, 1203, 1692), xr=[50, 100], xd=10, xm=5, yr=[-6, 4], yd=2, ym=1,
         fmt=".1f", lw=1.4),
    dict(pts=a1_pts, box=(735, 1251, 1203, 1692), xr=[40, 100], xd=20, xm=10, yr=[0.8, 1.2], yd=0.1,
         ym=0.05, fmt=".1f", lw=1.6),
]

fig = go.Figure()
layout = dict(
    width=W, height=H, margin=dict(l=0, r=0, t=0, b=0),
    paper_bgcolor="white", plot_bgcolor="white", showlegend=False,
)

for i, p in enumerate(panels, start=1):
    xs = [a for a, b in p["pts"]]
    ys = [b for a, b in p["pts"]]
    sfx = "" if i == 1 else str(i)
    fig.add_trace(go.Scatter(x=xs, y=ys, mode="lines", line=dict(color="black", width=p["lw"]),
                             xaxis="x" + sfx, yaxis="y" + sfx, hoverinfo="skip"))
    x0, x1, y0, y1 = p["box"]
    common = dict(showline=True, linecolor="black", linewidth=1, ticks="outside", ticklen=7,
                  tickwidth=1, tickcolor="black", showgrid=False, zeroline=False,
                  tickfont=dict(family=SANS, size=11, color="#333"))
    layout["xaxis" + sfx] = dict(
        domain=[px_x(x0), px_x(x1)], range=p["xr"], anchor="y" + sfx, dtick=p["xd"], tick0=0,
        minor=dict(ticks="outside", dtick=p["xm"], tick0=0, ticklen=6, tickcolor="black", showgrid=False),
        **common)
    layout["yaxis" + sfx] = dict(
        domain=[px_y(y1), px_y(y0)], range=p["yr"], anchor="x" + sfx, dtick=p["yd"], tick0=0,
        tickformat=p["fmt"],
        minor=dict(ticks="outside", dtick=p["ym"], tick0=0, ticklen=6, tickcolor="black", showgrid=False),
        **common)

annotations = []


def ann(text, x, y, size, family=SERIF, xanchor="center", angle=0, color="black"):
    annotations.append(dict(text=text, x=px_x(x), y=px_y(y), xref="paper", yref="paper",
                            xanchor=xanchor, yanchor="middle", showarrow=False, textangle=angle,
                            font=dict(family=family, size=size, color=color)))


# panel texts
ann("Phase residuals data", 357, 46, 35)
ann("GPS/MET", 1049, 37, 31)
ann("07 Febr. 1997", 762, 81, 27, xanchor="left")
ann("15 h 53 m UT", 762, 119, 27, xanchor="left")
ann("25.5N 231.7W", 762, 157, 27, xanchor="left")
ann("Phase path excess F1-F2", 1016, 475, 36)
ann("Amplitude data", 497, 740, 36)
ann("Amplitude L2", 890, 1026, 36)
ann("GPS/MET", 347, 1209, 30)
ann("25.5 N 231.7 W", 112, 1241, 26, xanchor="left")
ann(" 07 Febr. 1997", 112, 1268, 26, xanchor="left")
ann("15h 53m UT", 114, 1294, 26, xanchor="left")
ann("Amplitude A1 and A2 data", 348, 1644, 36)
ann("GPS/MET", 1016, 1218, 35)
ann("25.5 N 231.7 W", 779, 1248, 20, xanchor="left")
ann("07 Febr. 1997", 797, 1274, 15, xanchor="left")
ann("15h 53m 23s UT", 778, 1300, 15, xanchor="left")
ann("Amplitude L1", 876, 1648, 36)

# axis titles
ann("N(H) [1000el./cm3]", 9, 282, 12, family=SANS, angle=-90)
ann("H [km]", 346, 565, 12, family=SANS)
ann("F1-F2 [m]", 642, 276, 12, family=SANS, angle=-90)
ann("H [km]", 983, 587, 12, family=SANS)
ann("N(H) [1000el./cm3]", 9, 871, 12, family=SANS, angle=-90)
ann("H [km]", 344, 1150, 12, family=SANS)
ann("A2 normalized", 659, 860, 12, family=SANS, angle=-90)
ann("H [km]", 980, 1161, 12, family=SANS)
ann("dN(H)/dH [1000el/(cm3km)]", 22, 1452, 12, family=SANS, angle=-90)
ann("H [km]", 350, 1738, 12, family=SANS)
ann("A1 normalized", 659, 1446, 12, family=SANS, angle=-90)
ann("H [km]", 980, 1738, 12, family=SANS)

layout["annotations"] = annotations
fig.update_layout(**layout)
fig.write_html("out.html")
